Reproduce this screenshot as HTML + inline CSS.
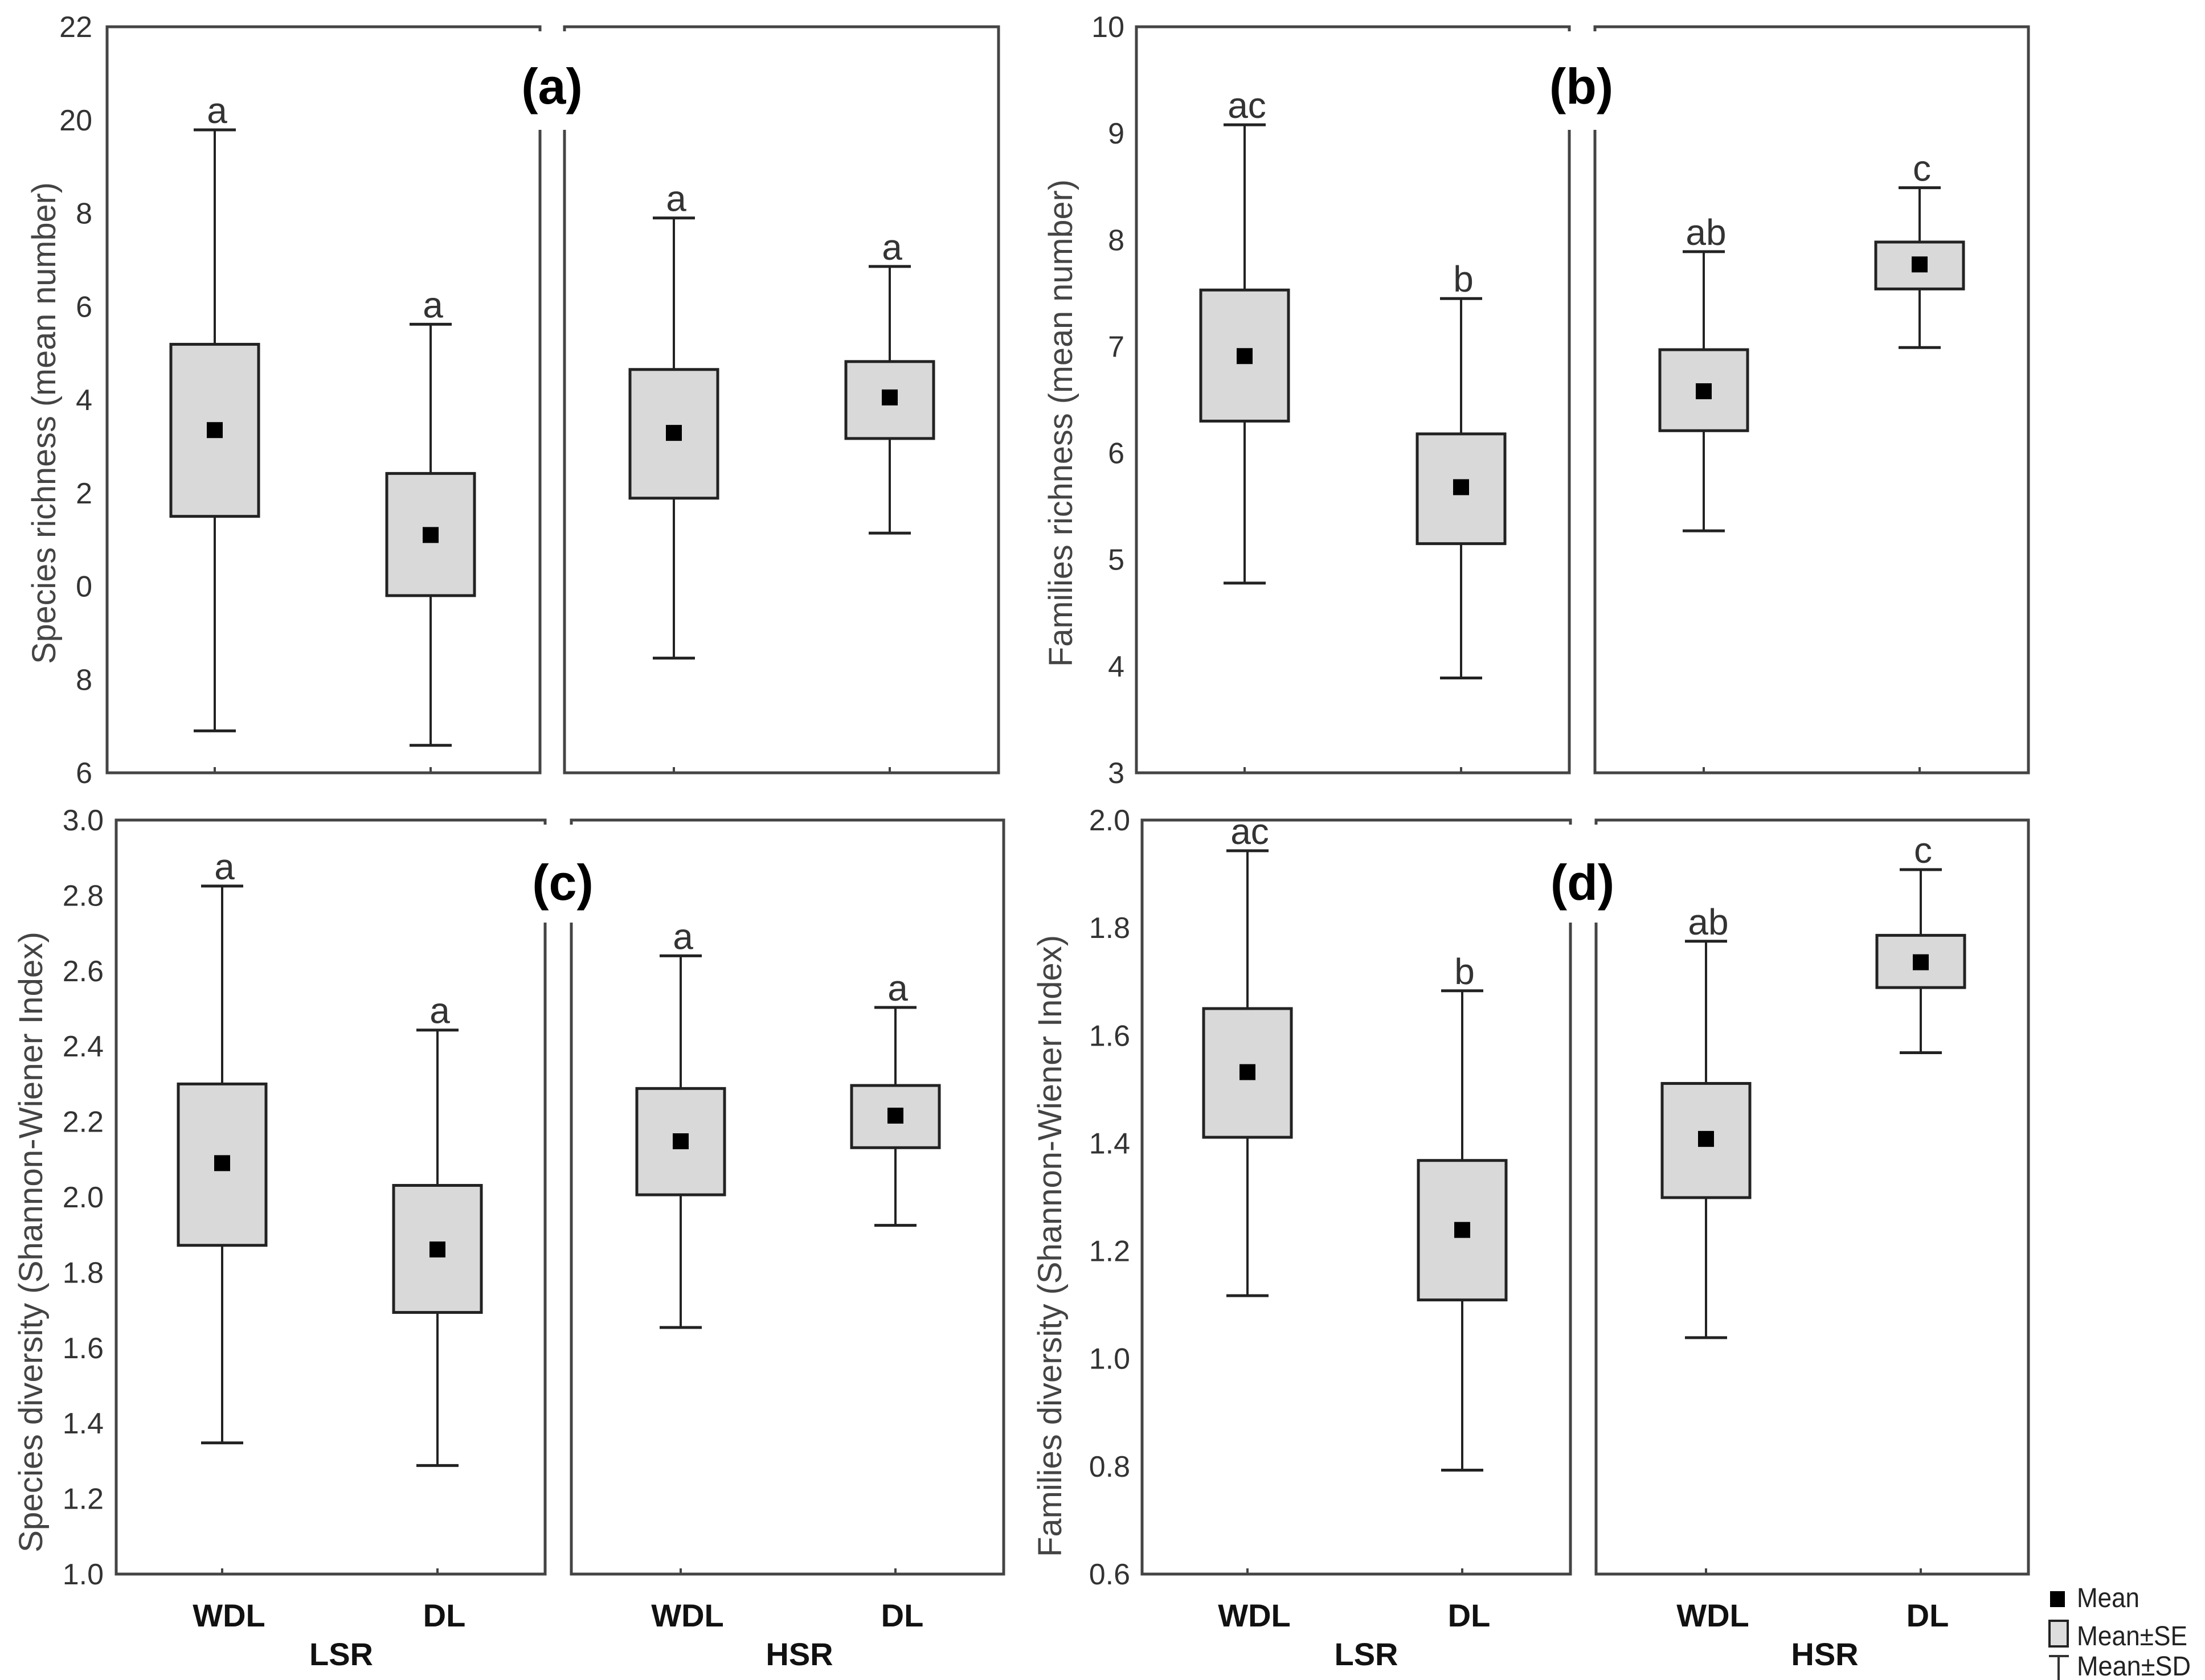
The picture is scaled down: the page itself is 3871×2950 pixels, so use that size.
<!DOCTYPE html>
<html><head><meta charset="utf-8"><style>
html,body{margin:0;padding:0;background:#fff}
svg{display:block}
text{font-family:"Liberation Sans",sans-serif}
</style></head><body>
<svg id="fig" width="3871" height="2950" viewBox="0 0 3871 2950" xmlns="http://www.w3.org/2000/svg"></svg>
<script>
// ---- data ----
const groups = ["WDL","DL","WDL","DL"];
const regions = ["LSR","HSR"];
// Panel a: Species richness
const aMean  = [13.35, 11.10, 13.29, 14.05];
const aSEtop = [15.19, 12.42, 14.65, 14.82];
const aSEbot = [11.50,  9.80, 11.89, 13.17];
const aSDtop = [19.79, 15.62, 17.90, 16.86];
const aSDbot = [ 6.90,  6.59,  8.46, 11.14];
const aLetters = ["a","a","a","a"];
const aTicks = [22,20,18,16,14,12,10,8,6];
const aTickLabels = ["22","20","8","6","4","2","0","8","6"];
// Panel b: Families richness
const bMean  = [6.91, 5.68, 6.58, 7.77];
const bSEtop = [7.53, 6.18, 6.97, 7.98];
const bSEbot = [6.30, 5.15, 6.21, 7.54];
const bSDtop = [9.08, 7.45, 7.89, 8.49];
const bSDbot = [4.78, 3.89, 5.27, 6.99];
const bLetters = ["ac","b","ab","c"];
const bTicks = [10,9,8,7,6,5,4,3];
const bTickLabels = ["10","9","8","7","6","5","4","3"];
// Panel c: Species diversity
const cMean  = [2.090, 1.861, 2.148, 2.216];
const cSEtop = [2.300, 2.031, 2.288, 2.296];
const cSEbot = [1.872, 1.694, 2.006, 2.131];
const cSDtop = [2.825, 2.443, 2.640, 2.503];
const cSDbot = [1.348, 1.288, 1.654, 1.925];
const cLetters = ["a","a","a","a"];
const cTicks = [3.0,2.8,2.6,2.4,2.2,2.0,1.8,1.6,1.4,1.2,1.0];
const cTickLabels = ["3.0","2.8","2.6","2.4","2.2","2.0","1.8","1.6","1.4","1.2","1.0"];
// Panel d: Families diversity
const dMean  = [1.532, 1.239, 1.408, 1.736];
const dSEtop = [1.650, 1.368, 1.511, 1.786];
const dSEbot = [1.411, 1.109, 1.299, 1.689];
const dSDtop = [1.943, 1.683, 1.775, 1.908];
const dSDbot = [1.117, 0.793, 1.039, 1.568];
const dLetters = ["ac","b","ab","c"];
const dTicks = [2.0,1.8,1.6,1.4,1.2,1.0,0.8,0.6];
const dTickLabels = ["2.0","1.8","1.6","1.4","1.2","1.0","0.8","0.6"];

const NS="http://www.w3.org/2000/svg";
const svg=document.getElementById('fig');
function mk(tag,attrs,parent){const e=document.createElementNS(NS,tag);for(const k in attrs)e.setAttribute(k,attrs[k]);(parent||svg).appendChild(e);return e;}

function panel(cfg){
  const g=mk('g',{});
  
  
  const y=v=>cfg.top+(cfg.max-v)/(cfg.max-cfg.min)*(cfg.bottom-cfg.top);
  cfg.frames.forEach((f,fi)=>{
    const r=mk('rect',{x:f[0],y:cfg.top,width:f[1]-f[0],height:cfg.bottom-cfg.top,fill:'none',stroke:'#444','stroke-width':5},g);
    
    
  });
  mk('rect',{x:cfg.frames[0][1]-20,y:cfg.top+8,width:cfg.frames[1][0]-cfg.frames[0][1]+40,height:cfg.labelCut-cfg.top-8,fill:'#fff'},g);
  const lab=mk('text',{x:cfg.labX,y:cfg.labY,'font-size':88,'font-weight':'bold','text-anchor':'middle',fill:'#000'},g);
  lab.textContent='('+cfg.id+')';
  
  
  cfg.ticks.forEach((t,i)=>{
    const tl=mk('text',{x:cfg.tickX,y:y(t)+18,'font-size':52,'text-anchor':'end',fill:'#333'},g);
    tl.textContent=cfg.tickLabels[i];
    
    
  });
  const yt=mk('text',{x:0,y:0,'font-size':58,'text-anchor':'middle',fill:'#444',transform:`translate(${cfg.titleX},${cfg.titleY}) rotate(-90)`,textLength:cfg.titleLen,lengthAdjust:'spacingAndGlyphs'},g);
  yt.textContent=cfg.title;
  
  
  for(let i=0;i<4;i++){
    const x=cfg.xs[i];
    const bw=154, cw=74;
    mk('line',{x1:x,x2:x,y1:cfg.bottom,y2:cfg.bottom-10,stroke:'#444','stroke-width':4},g);
    const wh=mk('line',{x1:x,x2:x,y1:y(cfg.sdTop[i]),y2:y(cfg.sdBot[i]),stroke:'#222','stroke-width':4},g);
    
    
    mk('line',{x1:x-cw/2,x2:x+cw/2,y1:y(cfg.sdTop[i]),y2:y(cfg.sdTop[i]),stroke:'#222','stroke-width':5},g);
    mk('line',{x1:x-cw/2,x2:x+cw/2,y1:y(cfg.sdBot[i]),y2:y(cfg.sdBot[i]),stroke:'#222','stroke-width':5},g);
    const b=mk('rect',{x:x-bw/2,y:y(cfg.seTop[i]),width:bw,height:y(cfg.seBot[i])-y(cfg.seTop[i]),fill:'#d9d9d9',stroke:'#222','stroke-width':5},g);
    
    
    const m=mk('rect',{x:x-14,y:y(cfg.mean[i])-14,width:28,height:28,fill:'#000'},g);
    
    
    const lt=mk('text',{x:x+4,y:y(cfg.sdTop[i])-12,'font-size':64,'text-anchor':'middle',fill:'#333'},g);
    lt.textContent=cfg.letters[i];
    
    
    if(cfg.xlabels){
      const xl=mk('text',{x:x+12,y:cfg.bottom+92,'font-size':56,'font-weight':'bold','text-anchor':'middle',fill:'#111'},g);
      xl.textContent=groups[i];
      
      
    }
  }
  if(cfg.xlabels){
    regions.forEach((r,ri)=>{
      const xx=(cfg.xs[ri*2]+cfg.xs[ri*2+1])/2+20;
      const rl=mk('text',{x:xx,y:cfg.bottom+160,'font-size':56,'font-weight':'bold','text-anchor':'middle',fill:'#111'},g);
      rl.textContent=r;
      
      
    });
  }
}

panel({id:'a',top:47,bottom:1357,max:22,min:6,frames:[[188,948],[991,1753]],xs:[377,756,1183,1562],
  mean:aMean,seTop:aSEtop,seBot:aSEbot,sdTop:aSDtop,sdBot:aSDbot,letters:aLetters,ticks:aTicks,tickLabels:aTickLabels,
  tickX:162,title:'Species richness  (mean number)',titleX:97,titleY:743,titleLen:846,labX:969,labY:182,labelCut:228,xlabels:false});
panel({id:'b',top:47,bottom:1357,max:10,min:3,frames:[[1995,2755],[2800,3561]],xs:[2185,2565,2991,3370],
  mean:bMean,seTop:bSEtop,seBot:bSEbot,sdTop:bSDtop,sdBot:bSDbot,letters:bLetters,ticks:bTicks,tickLabels:bTickLabels,
  tickX:1974,title:'Families richness  (mean number)',titleX:1882,titleY:743,titleLen:856,labX:2776,labY:182,labelCut:228,xlabels:false});
panel({id:'c',top:1440,bottom:2764,max:3.0,min:1.0,frames:[[204,957],[1003,1762]],xs:[390,768,1195,1572],
  mean:cMean,seTop:cSEtop,seBot:cSEbot,sdTop:cSDtop,sdBot:cSDbot,letters:cLetters,ticks:cTicks,tickLabels:cTickLabels,
  tickX:182,title:'Species diversity  (Shannon-Wiener  Index)',titleX:74,titleY:2181,titleLen:1090,labX:988,labY:1580,labelCut:1620,xlabels:true});
panel({id:'d',top:1440,bottom:2764,max:2.0,min:0.6,frames:[[2005,2757],[2802,3561]],xs:[2190,2567,2995,3372],
  mean:dMean,seTop:dSEtop,seBot:dSEbot,sdTop:dSDtop,sdBot:dSDbot,letters:dLetters,ticks:dTicks,tickLabels:dTickLabels,
  tickX:1984,title:'Families diversity  (Shannon-Wiener  Index)',titleX:1863,titleY:2188,titleLen:1092,labX:2778,labY:1580,labelCut:1620,xlabels:true});

const lg=mk('g',{});


mk('rect',{x:3599,y:2794,width:26,height:28,fill:'#000'},lg);
mk('rect',{x:3598,y:2846,width:32,height:45,fill:'#ddd',stroke:'#222','stroke-width':4},lg);
mk('line',{x1:3597,x2:3632,y1:2908,y2:2908,stroke:'#333','stroke-width':4},lg);
mk('line',{x1:3614,x2:3614,y1:2908,y2:2954,stroke:'#333','stroke-width':4},lg);
mk('line',{x1:3597,x2:3632,y1:2954,y2:2954,stroke:'#333','stroke-width':4},lg);
const legTexts=[["Mean",2822,110],["Mean±SE",2889,194],["Mean±SD",2942,200]];
legTexts.forEach(t=>{
  const e=mk('text',{x:3646,y:t[1],'font-size':48,fill:'#222',textLength:t[2],lengthAdjust:'spacingAndGlyphs'},lg);
  e.textContent=t[0];
  
  
});
</script>
</body></html>
